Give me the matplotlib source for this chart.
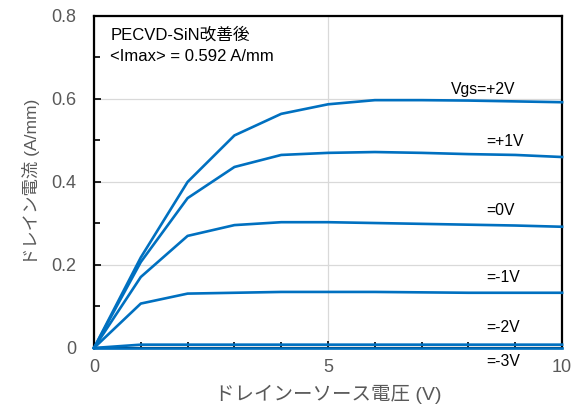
import matplotlib
matplotlib.use("Agg")
import matplotlib.pyplot as plt
from matplotlib.ticker import MultipleLocator

plt.rcParams['font.family'] = ['Liberation Sans', 'Noto Sans CJK JP']

vds = [0, 1, 2, 3, 4, 5, 6, 7, 8, 9, 10]
id_p2 = [0, 0.218, 0.400, 0.512, 0.564, 0.587, 0.597, 0.597, 0.596, 0.594, 0.592]
id_p1 = [0, 0.207, 0.361, 0.436, 0.465, 0.470, 0.472, 0.470, 0.467, 0.465, 0.460]
id_0 = [0, 0.171, 0.270, 0.296, 0.303, 0.303, 0.301, 0.299, 0.297, 0.295, 0.292]
id_m1 = [0, 0.107, 0.131, 0.133, 0.135, 0.135, 0.135, 0.134, 0.133, 0.133, 0.133]
id_m2 = [0, 0.008, 0.008, 0.008, 0.008, 0.008, 0.008, 0.008, 0.008, 0.008, 0.008]
id_m3 = [0, 0, 0, 0, 0, 0, 0, 0, 0, 0, 0]
curves = [id_p2, id_p1, id_0, id_m1, id_m2, id_m3]

vgs_labels = ["Vgs=+2V", "=+1V", "=0V", "=-1V", "=-2V", "=-3V"]
label_pos = [(7.62, 0.622), (8.38, 0.497), (8.38, 0.330), (8.38, 0.170), (8.38, 0.049), (8.38, -0.033)]

title_lines = ["PECVD-SiN改善後", "<Imax> = 0.592 A/mm"]

blue = "#0070C0"
gray = "#595959"

fig = plt.figure(figsize=(5.73, 4.07), dpi=100)
ax = fig.add_axes([0.164, 0.145, 0.817, 0.816])

for c in curves:
    ax.plot(vds, c, color=blue, lw=1.9, solid_joinstyle='round', clip_on=False, zorder=3)

ax.set_xlim(0, 10)
ax.set_ylim(0, 0.8)
ax.xaxis.set_minor_locator(MultipleLocator(1))
ax.yaxis.set_minor_locator(MultipleLocator(0.1))
ax.set_yticks([0, 0.2, 0.4, 0.6, 0.8])
ax.set_yticklabels(["0", "0.2", "0.4", "0.6", "0.8"])
ax.set_xticks([0, 5, 10])
ax.set_xticklabels(["0", "5", "10"])

ax.grid(True, which='major', color="#d9d9d9", lw=0.9)
ax.set_axisbelow(True)

for s in ax.spines.values():
    s.set_color("black")
    s.set_linewidth(1.6)

ax.tick_params(which='both', direction='in', color='black', width=1.2,
               labelcolor=gray, labelsize=13)
ax.tick_params(which='major', length=5)
ax.tick_params(which='minor', length=4)
ax.tick_params(axis='y', which='major', pad=13)
ax.tick_params(axis='x', which='major', pad=8)
ax.tick_params(axis='x', which='both', top=False)
ax.tick_params(axis='y', which='both', right=False)

ax.set_xlabel("ドレインーソース電圧 (V)", color=gray, fontsize=14, labelpad=6)
ax.set_ylabel("ドレイン電流 (A/mm)", color=gray, fontsize=12.5, labelpad=8)

for txt, (x, y) in zip(vgs_labels, label_pos):
    ax.text(x, y, txt, fontsize=11.3, color="black", ha='left', va='center', clip_on=False)

ax.text(0.35, 0.754, title_lines[0], fontsize=12, color="black", va='center')
ax.text(0.35, 0.702, title_lines[1], fontsize=12, color="black", va='center')

fig.savefig("out.png", dpi=100)
